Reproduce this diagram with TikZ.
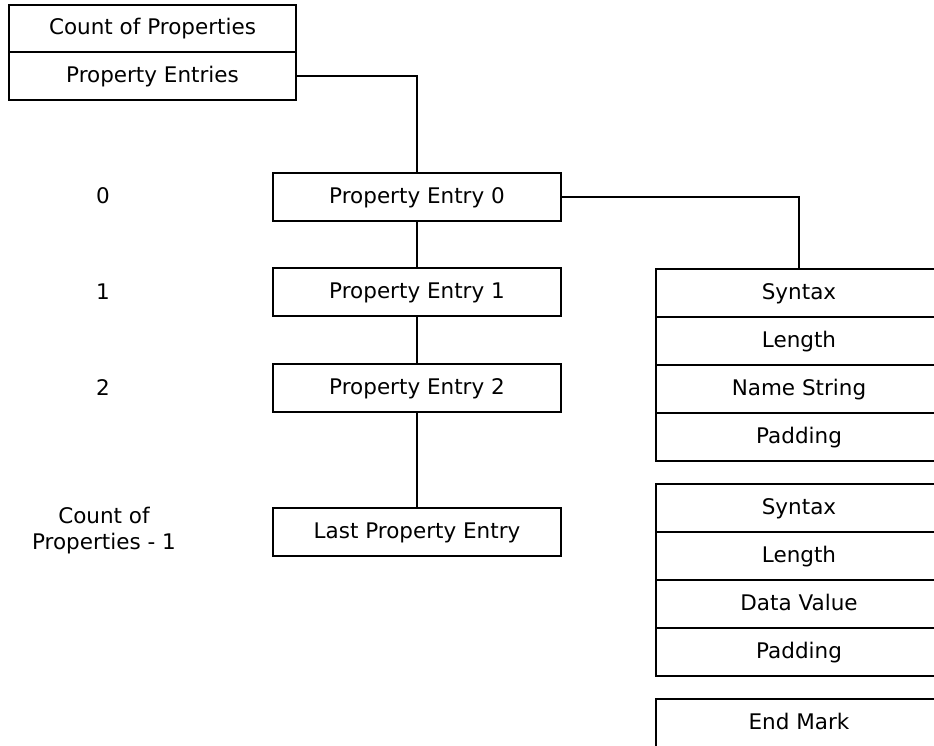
\documentclass[tikz,border=0pt]{standalone}
\usepackage{fontspec}
\setmainfont{DejaVu Sans}
\begin{document}
\begin{tikzpicture}[x=1pt,y=-1pt,
  cell/.style={draw, line width=1.7pt, minimum height=48pt, inner sep=0pt, text height=16pt, text depth=3.8pt, font=\fontsize{21.5}{26}\selectfont},
  topcell/.style={cell, minimum width=287pt},
  entry/.style={cell, minimum width=288pt},
  field/.style={cell, minimum width=286pt},
  lbl/.style={font=\fontsize{21.5}{26}\selectfont, align=center},
  conn/.style={line width=1.7pt}]
\useasboundingbox (0,0) rectangle (934,746);
\clip (0,0) rectangle (934,746);
% top structure
\node[topcell, minimum height=47pt] (count) at (152.5,28.5) {Count of Properties};
\node[topcell] (pents) at (152.5,76) {Property Entries};
% entries
\node[entry] (pe0) at (417,197) {Property Entry 0};
\node[entry] (pe1) at (417,292) {Property Entry 1};
\node[entry] (pe2) at (417,388) {Property Entry 2};
\node[entry] (pel) at (417,532) {Last Property Entry};
% index labels
\node[lbl] (l0) at (103,196) {0};
\node[lbl] (l1) at (103,292) {1};
\node[lbl] (l2) at (103,388) {2};
\node[lbl] (ll) at (104,531) {Count of\\Properties - 1};
% first field group
\node[field] (syn1) at (799,293) {Syntax};
\node[field] (len1) at (799,341) {Length};
\node[field] (nam1) at (799,389) {Name String};
\node[field] (pad1) at (799,437) {Padding};
% second field group
\node[field] (syn2) at (799,508) {Syntax};
\node[field] (len2) at (799,556) {Length};
\node[field] (dat2) at (799,604) {Data Value};
\node[field] (pad2) at (799,652) {Padding};
% end mark
\node[field] (endm) at (799,723) {End Mark};
% connectors
\draw[conn] (pents.east) -| (pe0.north);
\draw[conn] (pe0.south) -- (pe1.north);
\draw[conn] (pe1.south) -- (pe2.north);
\draw[conn] (pe2.south) -- (pel.north);
\draw[conn] (pe0.east) -| (syn1.north);
\end{tikzpicture}
\end{document}
